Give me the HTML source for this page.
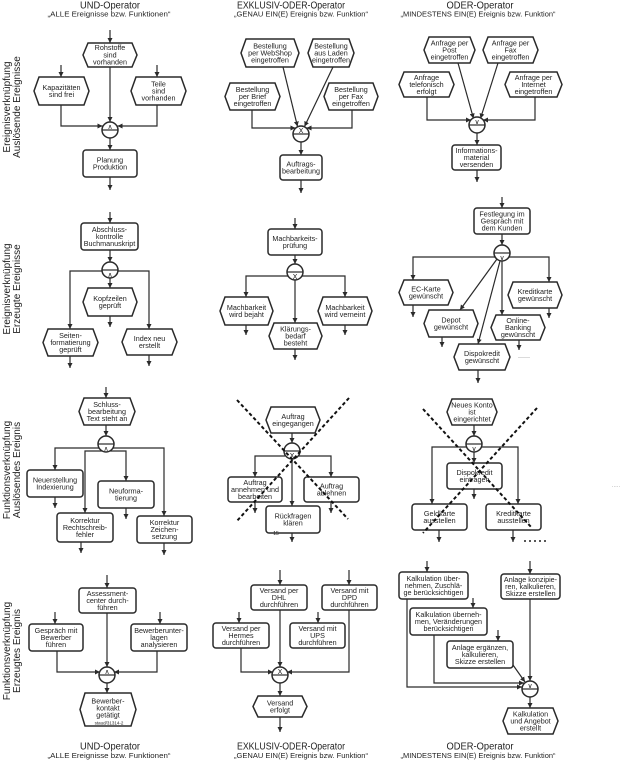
<!DOCTYPE html>
<html><head><meta charset="utf-8"><style>
html,body{margin:0;padding:0;background:#fff}
svg{display:block}
.s{fill:#fff;stroke:#2a2a2a;stroke-width:1.5}
.c{fill:none;stroke:#2a2a2a;stroke-width:1.2}
.a{fill:none;stroke:#2a2a2a;stroke-width:1.2;marker-end:url(#ah)}
.d{fill:none;stroke:#111;stroke-width:2;stroke-dasharray:3.5 2.5}
text{font-family:"Liberation Sans",Arial,sans-serif;font-size:7.2px;fill:#222;text-anchor:middle}
.t{font-size:10px}
.st{font-size:7.5px}
.op{font-family:"DejaVu Sans",sans-serif;font-size:7px}
.lab{font-size:10px}
</style></head><body>
<svg width="625" height="760" viewBox="0 0 625 760" xmlns="http://www.w3.org/2000/svg">
<defs>
<marker id="ah" viewBox="0 0 6 6" refX="6" refY="3" markerWidth="5" markerHeight="5" orient="auto" markerUnits="userSpaceOnUse"><path d="M0,0 L6,3 L0,6 Z" fill="#2a2a2a"/></marker>
</defs>

<!-- Titles top -->
<text class="t" x="110" y="8.5" textLength="60" lengthAdjust="spacingAndGlyphs">UND-Operator</text>
<text class="st" x="109" y="16.5" textLength="123" lengthAdjust="spacingAndGlyphs">„ALLE Ereignisse bzw. Funktionen“</text>
<text class="t" x="291" y="8.5" textLength="108" lengthAdjust="spacingAndGlyphs">EXKLUSIV-ODER-Operator</text>
<text class="st" x="301" y="16.5" textLength="134" lengthAdjust="spacingAndGlyphs">„GENAU EIN(E) Ereignis bzw. Funktion“</text>
<text class="t" x="480" y="8.5" textLength="67" lengthAdjust="spacingAndGlyphs">ODER-Operator</text>
<text class="st" x="478" y="16.5" textLength="155" lengthAdjust="spacingAndGlyphs">„MINDESTENS EIN(E) Ereignis bzw. Funktion“</text>

<!-- Titles bottom -->
<text class="t" x="110" y="749.5" textLength="60" lengthAdjust="spacingAndGlyphs">UND-Operator</text>
<text class="st" x="109" y="758" textLength="123" lengthAdjust="spacingAndGlyphs">„ALLE Ereignisse bzw. Funktionen“</text>
<text class="t" x="291" y="749.5" textLength="108" lengthAdjust="spacingAndGlyphs">EXKLUSIV-ODER-Operator</text>
<text class="st" x="301" y="758" textLength="134" lengthAdjust="spacingAndGlyphs">„GENAU EIN(E) Ereignis bzw. Funktion“</text>
<text class="t" x="480" y="749.5" textLength="67" lengthAdjust="spacingAndGlyphs">ODER-Operator</text>
<text class="st" x="478" y="758" textLength="155" lengthAdjust="spacingAndGlyphs">„MINDESTENS EIN(E) Ereignis bzw. Funktion“</text>

<!-- Left rotated labels -->
<text class="lab" transform="translate(10,107) rotate(-90)"><tspan x="0" dy="0">Ereignisverknüpfung</tspan><tspan x="0" dy="10">Auslösende Ereignisse</tspan></text>
<text class="lab" transform="translate(10,289) rotate(-90)"><tspan x="0" dy="0">Ereignisverknüpfung</tspan><tspan x="0" dy="10">Erzeugte Ereignisse</tspan></text>
<text class="lab" transform="translate(10,470) rotate(-90)"><tspan x="0" dy="0">Funktionsverknüpfung</tspan><tspan x="0" dy="10">Auslösendes Ereignis</tspan></text>
<text class="lab" transform="translate(10,651) rotate(-90)"><tspan x="0" dy="0">Funktionsverknüpfung</tspan><tspan x="0" dy="10">Erzeugtes Ereignis</tspan></text>

<!-- ===== Row 1 Col 1 ===== -->
<path class="a" d="M110,30 V43"/>
<path class="a" d="M61,65 V77"/>
<path class="a" d="M157,65 V77"/>
<path class="a" d="M61,105 V126 H102.5"/>
<path class="a" d="M157,105 V126 H117.5"/>
<path class="a" d="M110,67 V122"/>
<polygon class="s" points="88,43 132,43 137,55 132,67 88,67 83,55"/>
<text x="110" y="50.2"><tspan x="110">Rohstoffe</tspan><tspan x="110" dy="7.1">sind</tspan><tspan x="110" dy="7.1">vorhanden</tspan></text>
<polygon class="s" points="39,77 84,77 89,91 84,105 39,105 34,91"/>
<text x="61.5" y="89.8"><tspan x="61.5">Kapazitäten</tspan><tspan x="61.5" dy="7.3">sind frei</tspan></text>
<polygon class="s" points="136,77 181,77 186,91 181,105 136,105 131,91"/>
<text x="158.5" y="86.4"><tspan x="158.5">Teile</tspan><tspan x="158.5" dy="7.1">sind</tspan><tspan x="158.5" dy="7.1">vorhanden</tspan></text>
<circle class="s" cx="110" cy="130" r="8"/><path class="c" d="M102,130 H118"/>
<text class="op" x="110" y="129">∧</text>
<path class="a" d="M110,138 V150"/>
<rect class="s" x="83" y="150" width="54" height="27" rx="3"/>
<text x="110" y="162.3"><tspan x="110">Planung</tspan><tspan x="110" dy="7.3">Produktion</tspan></text>
<path class="a" d="M110,177 V190"/>

<!-- ===== Row 1 Col 2 ===== -->
<path class="a" d="M252,110 V128 H295.5"/>
<path class="a" d="M352,110 V128 H306.5"/>
<path class="a" d="M283,67 L297.5,126.5"/>
<path class="a" d="M333,67 L304.5,126.5"/>
<polygon class="s" points="246,39 294,39 299,53 294,67 246,67 241,53"/>
<text x="270" y="48.4"><tspan x="270">Bestellung</tspan><tspan x="270" dy="7.1">per WebShop</tspan><tspan x="270" dy="7.1">eingetroffen</tspan></text>
<polygon class="s" points="313,39 349,39 354,53 349,67 313,67 308,53"/>
<text x="331" y="48.4"><tspan x="331">Bestellung</tspan><tspan x="331" dy="7.1">aus Laden</tspan><tspan x="331" dy="7.1" textLength="38" lengthAdjust="spacingAndGlyphs">eingetroffen</tspan></text>
<polygon class="s" points="230,83 275,83 280,96.5 275,110 230,110 225,96.5"/>
<text x="252.5" y="91.9"><tspan x="252.5">Bestellung</tspan><tspan x="252.5" dy="7.1">per Brief</tspan><tspan x="252.5" dy="7.1">eingetroffen</tspan></text>
<polygon class="s" points="329,83 373,83 378,96.5 373,110 329,110 324,96.5"/>
<text x="351" y="91.9"><tspan x="351">Bestellung</tspan><tspan x="351" dy="7.1">per Fax</tspan><tspan x="351" dy="7.1">eingetroffen</tspan></text>
<circle class="s" cx="301" cy="134" r="8"/><path class="c" d="M293,134 H309"/>
<text class="op" x="301" y="133">X</text>
<path class="a" d="M301,142 V155"/>
<rect class="s" x="280" y="155" width="42" height="25" rx="3"/>
<text x="301" y="166.3"><tspan x="301">Auftrags-</tspan><tspan x="301" dy="7.3" textLength="38" lengthAdjust="spacingAndGlyphs">bearbeitung</tspan></text>
<path class="a" d="M301,180 V193"/>

<!-- ===== Row 1 Col 3 ===== -->
<path class="a" d="M427,97 V120 H471"/>
<path class="a" d="M535,97 V120 H483"/>
<path class="a" d="M458,63 L473.5,118.5"/>
<path class="a" d="M498,63 L480.5,118.5"/>
<polygon class="s" points="429,37 470,37 475,50 470,63 429,63 424,50"/>
<text x="449.5" y="45.4"><tspan x="449.5">Anfrage per</tspan><tspan x="449.5" dy="7.1">Post</tspan><tspan x="449.5" dy="7.1">eingetroffen</tspan></text>
<polygon class="s" points="488,37 533,37 538,50 533,63 488,63 483,50"/>
<text x="510.5" y="45.4"><tspan x="510.5">Anfrage per</tspan><tspan x="510.5" dy="7.1">Fax</tspan><tspan x="510.5" dy="7.1">eingetroffen</tspan></text>
<polygon class="s" points="404,72 449,72 454,84.5 449,97 404,97 399,84.5"/>
<text x="426.5" y="79.9"><tspan x="426.5">Anfrage</tspan><tspan x="426.5" dy="7.1">telefonisch</tspan><tspan x="426.5" dy="7.1">erfolgt</tspan></text>
<polygon class="s" points="510,72 557,72 562,84.5 557,97 510,97 505,84.5"/>
<text x="533.5" y="79.9"><tspan x="533.5">Anfrage per</tspan><tspan x="533.5" dy="7.1">Internet</tspan><tspan x="533.5" dy="7.1">eingetroffen</tspan></text>
<circle class="s" cx="477" cy="125" r="8"/><path class="c" d="M469,125 H485"/>
<text class="op" x="477" y="124">∨</text>
<path class="a" d="M477,133 V145"/>
<rect class="s" x="452" y="145" width="49" height="25" rx="3"/>
<text x="476.5" y="152.9"><tspan x="476.5">Informations-</tspan><tspan x="476.5" dy="7.1">material</tspan><tspan x="476.5" dy="7.1">versenden</tspan></text>
<path class="a" d="M477,170 V182"/>

<!-- ===== Row 2 Col 1 ===== -->
<path class="a" d="M110,212 V223"/>
<rect class="s" x="81" y="223" width="57" height="27" rx="3"/>
<text x="109.5" y="231.9"><tspan x="109.5">Abschluss-</tspan><tspan x="109.5" dy="7.1">kontrolle</tspan><tspan x="109.5" dy="7.1">Buchmanuskript</tspan></text>
<path class="a" d="M110,250 V262"/>
<path class="a" d="M103,271 H70 V329"/>
<path class="a" d="M117,271 H149 V329"/>
<path class="a" d="M110,278 V288"/>
<circle class="s" cx="110" cy="270" r="8"/><path class="c" d="M102,270 H118"/>
<text class="op" x="110" y="277">∧</text>
<polygon class="s" points="88,288 132,288 137,302 132,316 88,316 83,302"/>
<text x="110" y="300.8"><tspan x="110">Kopfzeilen</tspan><tspan x="110" dy="7.3">geprüft</tspan></text>
<path class="a" d="M110,316 V327"/>
<polygon class="s" points="48,329 93,329 98,342.5 93,356 48,356 43,342.5"/>
<text x="70.5" y="337.9"><tspan x="70.5">Seiten-</tspan><tspan x="70.5" dy="7.1">formatierung</tspan><tspan x="70.5" dy="7.1">geprüft</tspan></text>
<path class="a" d="M70,356 V368"/>
<polygon class="s" points="127,329 172,329 177,342 172,355 127,355 122,342"/>
<text x="149.5" y="340.8"><tspan x="149.5">Index neu</tspan><tspan x="149.5" dy="7.3">erstellt</tspan></text>
<path class="a" d="M149,355 V366"/>

<!-- ===== Row 2 Col 2 ===== -->
<path class="a" d="M295,218 V229"/>
<rect class="s" x="268" y="229" width="54" height="26" rx="3"/>
<text x="295" y="240.8"><tspan x="295">Machbarkeits-</tspan><tspan x="295" dy="7.3">prüfung</tspan></text>
<path class="a" d="M295,255 V264"/>
<path class="a" d="M288,276 H246 V297"/>
<path class="a" d="M302,276 H345 V297"/>
<path class="a" d="M295,280 V323"/>
<circle class="s" cx="295" cy="272" r="8"/><path class="c" d="M287,272 H303"/>
<text class="op" x="295" y="279">X</text>
<polygon class="s" points="225,297 268,297 273,311 268,325 225,325 220,311"/>
<text x="246.5" y="309.8"><tspan x="246.5">Machbarkeit</tspan><tspan x="246.5" dy="7.3">wird bejaht</tspan></text>
<polygon class="s" points="323,297 367,297 372,311 367,325 323,325 318,311"/>
<text x="345" y="309.8"><tspan x="345">Machbarkeit</tspan><tspan x="345" dy="7.3">wird verneint</tspan></text>
<polygon class="s" points="274,323 317,323 322,336 317,349 274,349 269,336"/>
<text x="295.5" y="331.4"><tspan x="295.5">Klärungs-</tspan><tspan x="295.5" dy="7.1">bedarf</tspan><tspan x="295.5" dy="7.1">besteht</tspan></text>
<path class="a" d="M246,325 V335"/>
<path class="a" d="M345,325 V335"/>
<path class="a" d="M295,349 V360"/>

<!-- ===== Row 2 Col 3 ===== -->
<path class="a" d="M502,197 V208"/>
<rect class="s" x="474" y="208" width="56" height="26" rx="3"/>
<text x="502" y="216.4"><tspan x="502">Festlegung im</tspan><tspan x="502" dy="7.1">Gespräch mit</tspan><tspan x="502" dy="7.1">dem Kunden</tspan></text>
<path class="a" d="M502,234 V245"/>
<path class="a" d="M495,257 H413 V280"/>
<path class="a" d="M509,257 H549 V282"/>
<path class="a" d="M497,259 L460,310"/>
<path class="a" d="M500,261 L478,344"/>
<path class="a" d="M502,261 V315"/>
<circle class="s" cx="502" cy="253" r="8"/><path class="c" d="M494,253 H510"/>
<text class="op" x="502" y="260">∨</text>
<polygon class="s" points="404,280 448,280 453,292.5 448,305 404,305 399,292.5"/>
<text x="426" y="291.3"><tspan x="426">EC-Karte</tspan><tspan x="426" dy="7.3">gewünscht</tspan></text>
<polygon class="s" points="513,282 557,282 562,295 557,308 513,308 508,295"/>
<text x="535" y="293.8"><tspan x="535">Kreditkarte</tspan><tspan x="535" dy="7.3">gewünscht</tspan></text>
<polygon class="s" points="429,310 473,310 478,323.5 473,337 429,337 424,323.5"/>
<text x="451" y="322.3"><tspan x="451">Depot</tspan><tspan x="451" dy="7.3">gewünscht</tspan></text>
<polygon class="s" points="496,315 540,315 545,327.5 540,340 496,340 491,327.5"/>
<text x="518" y="322.9"><tspan x="518">Online-</tspan><tspan x="518" dy="7.1">Banking</tspan><tspan x="518" dy="7.1">gewünscht</tspan></text>
<polygon class="s" points="459,344 505,344 510,357 505,370 459,370 454,357"/>
<text x="482" y="355.8"><tspan x="482">Dispokredit</tspan><tspan x="482" dy="7.3">gewünscht</tspan></text>
<path class="a" d="M413,305 V317"/>
<path class="a" d="M549,308 V318"/>
<path class="a" d="M442,337 V347"/>
<path class="a" d="M519,340 V350"/>
<path class="a" d="M478,370 V383"/>
<text x="524" y="358" style="fill:#777">......</text>

<!-- ===== Row 3 Col 1 ===== -->
<path class="a" d="M106,387 V398"/>
<polygon class="s" points="84,398 130,398 135,411.5 130,425 84,425 79,411.5"/>
<text x="107" y="406.9"><tspan x="107">Schluss-</tspan><tspan x="107" dy="7.1">bearbeitung</tspan><tspan x="107" dy="7.1">Text steht an</tspan></text>
<path class="a" d="M106,425 V436"/>
<path class="a" d="M99,448 H55 V470"/>
<path class="a" d="M113,448 H164 V516"/>
<path class="a" d="M102,451 H85 V513"/>
<path class="a" d="M110,451 H126 V481"/>
<circle class="s" cx="106" cy="444" r="8"/><path class="c" d="M98,444 H114"/>
<text class="op" x="106" y="451">∧</text>
<rect class="s" x="27" y="470" width="56" height="27" rx="3"/>
<text x="55" y="482.3"><tspan x="55">Neuerstellung</tspan><tspan x="55" dy="7.3">Indexierung</tspan></text>
<rect class="s" x="98" y="481" width="56" height="27" rx="3"/>
<text x="126" y="493.3"><tspan x="126">Neuforma-</tspan><tspan x="126" dy="7.3">tierung</tspan></text>
<rect class="s" x="57" y="513" width="56" height="29" rx="3"/>
<text x="85" y="522.9"><tspan x="85">Korrektur</tspan><tspan x="85" dy="7.1">Rechtschreib-</tspan><tspan x="85" dy="7.1">fehler</tspan></text>
<rect class="s" x="137" y="516" width="55" height="27" rx="3"/>
<text x="164.5" y="524.9"><tspan x="164.5">Korrektur</tspan><tspan x="164.5" dy="7.1">Zeichen-</tspan><tspan x="164.5" dy="7.1">setzung</tspan></text>
<path class="a" d="M55,497 V508"/>
<path class="a" d="M126,508 V519"/>
<path class="a" d="M81,542 V553"/>
<path class="a" d="M164,543 V555"/>

<!-- ===== Row 3 Col 2 ===== -->
<polygon class="s" points="271,407 315,407 320,420 315,433 271,433 266,420"/>
<text x="293" y="418.8"><tspan x="293">Auftrag</tspan><tspan x="293" dy="7.3">eingegangen</tspan></text>
<path class="a" d="M292,433 V443"/>
<path class="a" d="M285,456 H255 V477"/>
<path class="a" d="M299,456 H331 V477"/>
<path class="a" d="M292,459 V506"/>
<circle class="s" cx="292" cy="451" r="8"/><path class="c" d="M284,451 H300"/>
<text class="op" x="292" y="458">X</text>
<rect class="s" x="228" y="477" width="54" height="25" rx="3"/>
<text x="255" y="484.9"><tspan x="255">Auftrag</tspan><tspan x="255" dy="7.1">annehmen und</tspan><tspan x="255" dy="7.1">bearbeiten</tspan></text>
<rect class="s" x="304" y="477" width="55" height="25" rx="3"/>
<text x="331.5" y="488.3"><tspan x="331.5">Auftrag</tspan><tspan x="331.5" dy="7.3">ablehnen</tspan></text>
<rect class="s" x="266" y="506" width="54" height="27" rx="3"/>
<text x="293" y="518.3"><tspan x="293">Rückfragen</tspan><tspan x="293" dy="7.3">klären</tspan></text>
<text x="276" y="535" style="font-size:5px">15</text>
<path class="a" d="M255,502 V513"/>
<path class="a" d="M331,502 V513"/>
<path class="a" d="M292,533 V542"/>
<path class="d" d="M237,400 L348,519"/>
<path class="d" d="M349,398 L236,522"/>

<!-- ===== Row 3 Col 3 ===== -->
<polygon class="s" points="452,399 492,399 497,412 492,425 452,425 447,412"/>
<text x="472" y="407.4"><tspan x="472">Neues Konto</tspan><tspan x="472" dy="7.1">ist</tspan><tspan x="472" dy="7.1">eingerichtet</tspan></text>
<path class="a" d="M474,425 V436"/>
<path class="a" d="M467,447 H432 V504"/>
<path class="a" d="M481,447 H518 V504"/>
<path class="a" d="M474,452 V463"/>
<circle class="s" cx="474" cy="444" r="8"/><path class="c" d="M466,444 H482"/>
<text class="op" x="474" y="451">∨</text>
<rect class="s" x="447" y="463" width="55" height="26" rx="3"/>
<text x="474.5" y="474.8"><tspan x="474.5">Dispokredit</tspan><tspan x="474.5" dy="7.3">eintragen</tspan></text>
<path class="a" d="M474,489 V499"/>
<rect class="s" x="412" y="504" width="55" height="26" rx="3"/>
<text x="439.5" y="515.8"><tspan x="439.5">Geldkarte</tspan><tspan x="439.5" dy="7.3">ausstellen</tspan></text>
<rect class="s" x="486" y="504" width="55" height="26" rx="3"/>
<text x="513.5" y="515.8"><tspan x="513.5">Kreditkarte</tspan><tspan x="513.5" dy="7.3">ausstellen</tspan></text>
<path class="a" d="M439,530 V542"/>
<path class="a" d="M513,530 V542"/>
<g fill="#222"><circle cx="525" cy="541" r="1"/><circle cx="530" cy="541" r="1"/><circle cx="535" cy="541" r="1"/><circle cx="540" cy="541" r="1"/><circle cx="545" cy="541" r="1"/></g>
<text x="616" y="487" style="fill:#aaa;font-size:6px">.....</text>
<path class="d" d="M423,409 L532,528"/>
<path class="d" d="M537,408 L423,533"/>

<!-- ===== Row 4 Col 1 ===== -->
<path class="a" d="M107,575 V588"/>
<rect class="s" x="79" y="588" width="57" height="25" rx="3"/>
<text x="107.5" y="595.9"><tspan x="107.5">Assessment-</tspan><tspan x="107.5" dy="7.1">center durch-</tspan><tspan x="107.5" dy="7.1">führen</tspan></text>
<path class="a" d="M55,612 V624"/>
<rect class="s" x="29" y="624" width="54" height="27" rx="3"/>
<text x="56" y="632.9"><tspan x="56">Gespräch mit</tspan><tspan x="56" dy="7.1">Bewerber</tspan><tspan x="56" dy="7.1">führen</tspan></text>
<path class="a" d="M160,612 V624"/>
<rect class="s" x="131" y="624" width="56" height="27" rx="3"/>
<text x="159" y="632.9"><tspan x="159">Bewerberunter-</tspan><tspan x="159" dy="7.1">lagen</tspan><tspan x="159" dy="7.1">analysieren</tspan></text>
<path class="a" d="M57,651 V672 H100"/>
<path class="a" d="M157,651 V672 H114"/>
<path class="a" d="M107,613 V667"/>
<circle class="s" cx="107" cy="675" r="8"/><path class="c" d="M99,675 H115"/>
<text class="op" x="107" y="674">∧</text>
<path class="a" d="M107,683 V693"/>
<polygon class="s" points="85,693 131,693 136,709.5 131,726 85,726 80,709.5"/>
<text x="108" y="703.5"><tspan x="108">Bewerber-</tspan><tspan x="108" dy="7.1">kontakt</tspan><tspan x="108" dy="7.1">getätigt</tspan></text>
<text x="109" y="724.5" style="font-size:4.5px">staud/31314-2</text>

<!-- ===== Row 4 Col 2 ===== -->
<path class="a" d="M280,570 V585"/>
<rect class="s" x="251" y="585" width="56" height="25" rx="3"/>
<text x="279" y="592.9"><tspan x="279">Versand per</tspan><tspan x="279" dy="7.1">DHL</tspan><tspan x="279" dy="7.1">durchführen</tspan></text>
<path class="a" d="M349,570 V585"/>
<rect class="s" x="322" y="585" width="55" height="25" rx="3"/>
<text x="349.5" y="592.9"><tspan x="349.5">Versand mit</tspan><tspan x="349.5" dy="7.1">DPD</tspan><tspan x="349.5" dy="7.1">durchführen</tspan></text>
<path class="a" d="M239,612 V623"/>
<rect class="s" x="213" y="623" width="56" height="25" rx="3"/>
<text x="241" y="630.9"><tspan x="241">Versand per</tspan><tspan x="241" dy="7.1">Hermes</tspan><tspan x="241" dy="7.1">durchführen</tspan></text>
<path class="a" d="M318,612 V623"/>
<rect class="s" x="290" y="623" width="55" height="25" rx="3"/>
<text x="317.5" y="630.9"><tspan x="317.5">Versand mit</tspan><tspan x="317.5" dy="7.1">UPS</tspan><tspan x="317.5" dy="7.1">durchführen</tspan></text>
<path class="a" d="M241,648 V672 H273"/>
<path class="a" d="M349,610 V672 H287"/>
<path class="a" d="M280,610 V667"/>
<circle class="s" cx="280" cy="675" r="8"/><path class="c" d="M272,675 H288"/>
<text class="op" x="280" y="674">X</text>
<path class="a" d="M280,683 V696"/>
<polygon class="s" points="258,696 302,696 307,706.5 302,717 258,717 253,706.5"/>
<text x="280" y="705.3"><tspan x="280">Versand</tspan><tspan x="280" dy="7.3">erfolgt</tspan></text>
<path class="a" d="M280,717 V732"/>

<!-- ===== Row 4 Col 3 ===== -->
<path class="a" d="M427,561 V572"/>
<rect class="s" x="399" y="572" width="69" height="27" rx="3"/>
<text x="433.5" y="580.9"><tspan x="433.5">Kalkulation über-</tspan><tspan x="433.5" dy="7.1">nehmen, Zuschlä-</tspan><tspan x="433.5" dy="7.1">ge berücksichtigen</tspan></text>
<path class="a" d="M530,561 V574"/>
<rect class="s" x="501" y="574" width="59" height="25" rx="3"/>
<text x="530.5" y="581.9"><tspan x="530.5">Anlage konzipie-</tspan><tspan x="530.5" dy="7.1">ren, kalkulieren,</tspan><tspan x="530.5" dy="7.1">Skizze erstellen</tspan></text>
<path class="a" d="M473,598 V608"/>
<rect class="s" x="410" y="608" width="77" height="27" rx="3"/>
<text x="448.5" y="616.9"><tspan x="448.5">Kalkulation überneh-</tspan><tspan x="448.5" dy="7.1">men, Veränderungen</tspan><tspan x="448.5" dy="7.1">berücksichtigen</tspan></text>
<path class="a" d="M498,630 V641"/>
<rect class="s" x="447" y="641" width="66" height="27" rx="3"/>
<text x="480" y="649.9"><tspan x="480">Anlage ergänzen,</tspan><tspan x="480" dy="7.1">kalkulieren,</tspan><tspan x="480" dy="7.1">Skizze erstellen</tspan></text>
<path class="a" d="M407,599 V687 H522"/>
<path class="a" d="M434,635 V683 H524"/>
<path class="a" d="M513,665 L525,682"/>
<path class="a" d="M530,599 V681"/>
<circle class="s" cx="530" cy="689" r="8"/><path class="c" d="M522,689 H538"/>
<text class="op" x="530" y="688">∨</text>
<path class="a" d="M530,697 V708"/>
<polygon class="s" points="508,708 553,708 558,721 553,734 508,734 503,721"/>
<text x="530.5" y="716.4"><tspan x="530.5">Kalkulation</tspan><tspan x="530.5" dy="7.1">und Angebot</tspan><tspan x="530.5" dy="7.1">erstellt</tspan></text>
</svg>
</body></html>
